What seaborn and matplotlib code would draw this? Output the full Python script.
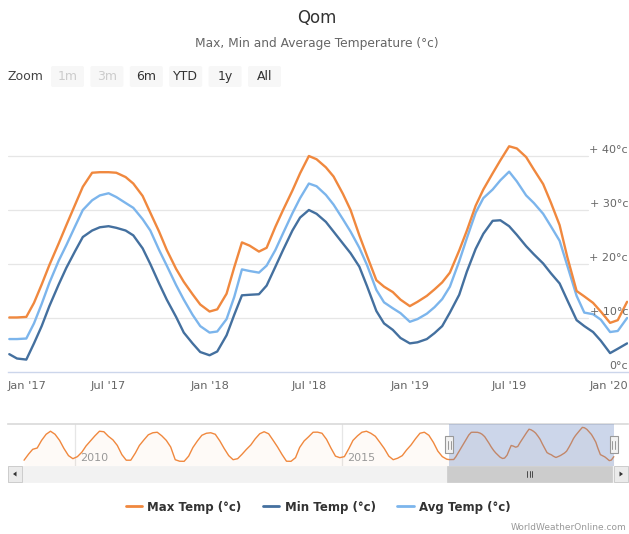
import numpy as np
import pandas as pd
import matplotlib
matplotlib.use("Agg")
import matplotlib.pyplot as plt
import matplotlib.transforms as mtransforms
from matplotlib.patches import Rectangle, FancyBboxPatch, Polygon
from matplotlib.lines import Line2D
import seaborn as sns

# ---------------- data ----------------
# semi-monthly sample dates (1st and 15th), Jan 2017 .. Feb 2020
dates = pd.date_range("2017-01-01", "2020-02-01", freq="SMS")

max_temp = [10.1, 10.1, 10.2, 12.8, 16.2, 19.8, 23.8, 27.2, 31.0, 34.3, 36.9, 37.0,
            37.0, 36.9, 36.1, 34.9, 32.6, 29.5, 26.0, 22.6, 19.1, 16.7, 14.4, 12.5,
            11.2, 11.6, 14.5, 19.4, 24.0, 23.4, 22.3, 23.0, 26.9, 30.0, 33.6, 36.8,
            40.0, 39.4, 37.9, 36.2, 33.0, 30.0, 25.3, 21.5, 17.0, 15.8, 14.8, 13.4,
            12.2, 13.0, 14.1, 15.3, 16.6, 18.4, 22.5, 26.2, 30.8, 33.8, 36.8, 39.2,
            41.8, 41.4, 39.8, 37.5, 34.8, 31.4, 27.2, 21.3, 15.0, 14.0, 12.8, 11.2,
            9.1, 9.6, 13.0]

min_temp = [3.3, 2.5, 2.3, 5.3, 8.5, 12.2, 16.2, 19.3, 22.4, 25.0, 26.2, 26.8,
            27.0, 26.7, 26.2, 25.3, 22.9, 20.0, 16.4, 13.4, 10.2, 7.3, 5.3, 3.7,
            3.1, 3.8, 6.8, 10.6, 14.2, 14.3, 14.4, 16.0, 19.5, 22.6, 26.2, 28.6,
            30.0, 29.3, 27.8, 26.0, 23.8, 22.0, 19.5, 15.9, 11.3, 9.0, 7.8, 6.3,
            5.3, 5.5, 6.1, 7.2, 8.5, 11.0, 14.3, 18.6, 22.8, 25.6, 28.0, 28.1,
            27.0, 25.4, 23.3, 21.8, 20.1, 18.3, 16.4, 13.3, 9.6, 8.5, 7.4, 5.8,
            3.5, 4.3, 5.3]

avg_temp = [6.1, 6.1, 6.2, 9.0, 12.6, 16.5, 20.6, 23.5, 27.0, 30.0, 31.8, 32.7,
            33.1, 32.4, 31.3, 30.4, 28.3, 26.2, 22.6, 19.7, 16.1, 13.4, 10.6, 8.5,
            7.3, 7.5, 9.8, 13.9, 19.0, 18.7, 18.4, 19.7, 22.6, 25.7, 29.4, 32.2,
            34.9, 34.4, 32.8, 31.0, 28.3, 26.0, 23.0, 19.8, 15.2, 12.9, 11.8, 10.9,
            9.3, 9.8, 10.8, 12.0, 13.5, 15.8, 20.5, 24.8, 29.5, 32.2, 33.8, 35.5,
            37.1, 35.3, 32.7, 31.3, 29.3, 27.0, 24.3, 19.7, 14.1, 11.0, 10.7, 9.7,
            7.4, 7.6, 10.0]

# navigator history (monthly max temp, 2009-2016)
nav_hist_dates = pd.date_range("2009-01-01", "2016-12-01", freq="MS") + pd.Timedelta(days=14)
nav_hist_max = [9.5, 15.5, 20.2, 21.5, 29.0, 35.0, 38.0, 35.0, 29.0, 21.0, 14.0, 11.0,
                13.0, 17.5, 23.5, 28.5, 33.5, 38.0, 37.5, 33.0, 29.5, 24.0, 15.0, 9.5,
                9.5, 16.5, 24.0, 29.5, 34.5, 36.5, 37.0, 33.5, 29.0, 22.5, 10.0, 8.5,
                8.4, 13.5, 22.0, 28.5, 34.0, 36.0, 36.5, 35.0, 28.5, 21.0, 14.0, 10.0,
                11.0, 15.5, 20.0, 24.5, 30.5, 35.5, 37.5, 35.5, 29.0, 22.5, 15.0, 8.5,
                8.4, 12.0, 22.0, 28.5, 32.5, 37.0, 37.1, 36.0, 30.0, 21.5, 13.5, 12.0,
                13.0, 21.0, 29.0, 33.5, 37.0, 38.0, 36.0, 33.0, 27.0, 21.0, 13.5, 10.0,
                11.5, 14.0, 19.5, 24.5, 30.5, 36.0, 37.0, 34.0, 27.0, 18.5, 13.0, 10.5]

series_names = ["Max Temp (°c)", "Min Temp (°c)", "Avg Temp (°c)"]
series_colors = ["#f0883e", "#44709f", "#7cb5ec"]

tick_dates = pd.to_datetime(["2017-01-01", "2017-07-01", "2018-01-01", "2018-07-01",
                             "2019-01-01", "2019-07-01", "2020-01-01"])
tick_labels = ["Jan '17", "Jul '17", "Jan '18", "Jul '18", "Jan '19", "Jul '19", "Jan '20"]
y_ticks = [0, 10, 20, 30, 40]
y_labels = ["0°c", "+ 10°c", "+ 20°c", "+ 30°c", "+ 40°c"]
buttons = ["1m", "3m", "6m", "YTD", "1y", "All"]
buttons_enabled = [False, False, True, True, True, True]

# ---------------- style ----------------
sns.set_style("white")
plt.rcParams["font.family"] = ["DejaVu Sans"]

W, H = 629, 534
fig = plt.figure(figsize=(W / 100, H / 100), dpi=100)


def fb(l, t, r, b):
    return [l / W, 1 - b / H, (r - l) / W, (b - t) / H]


# ---------------- main chart ----------------
ax = fig.add_axes(fb(8, 100, 628, 372))
df = pd.DataFrame({"date": dates,
                   series_names[0]: max_temp,
                   series_names[1]: min_temp,
                   series_names[2]: avg_temp})
long = df.melt(id_vars="date", var_name="series", value_name="temp")
sns.lineplot(data=long, x="date", y="temp", hue="series", hue_order=series_names[::-1],
             palette=dict(zip(series_names, series_colors)), linewidth=1.7,
             legend=False, ax=ax, solid_joinstyle="round", solid_capstyle="round")

px_per_day = 200.4 / 365.25
t0 = pd.Timestamp("2017-01-01")
ax.set_xlim(t0 - pd.Timedelta(days=1.3 / px_per_day), t0 + pd.Timedelta(days=618.7 / px_per_day))
ax.set_ylim(0, 272 / 5.4)
ax.set_xlabel("")
ax.set_ylabel("")
ax.set_yticks([])
ax.set_xticks(tick_dates)
ax.tick_params(axis="x", length=7, width=0.8, color="#ccd6eb", labelbottom=False, direction="out")
for s in ["left", "right", "top"]:
    ax.spines[s].set_visible(False)
ax.spines["bottom"].set_color("#ccd6eb")
ax.spines["bottom"].set_linewidth(1.0)
ax.set_facecolor("none")

for v in y_ticks[1:]:
    ax.axhline(v, xmin=0, xmax=(588 - 8) / 620, color="#e6e6e6", lw=0.9, zorder=0)

ytrans = mtransforms.offset_copy(mtransforms.blended_transform_factory(ax.transAxes, ax.transData),
                                 fig=fig, x=0, y=6, units="dots")
for v, lab in zip(y_ticks, y_labels):
    ax.text(1.0, v, lab, transform=ytrans, ha="right", va="center", fontsize=8, color="#666666")

xtrans = mtransforms.blended_transform_factory(ax.transData, ax.transAxes)
for i, (d, lab) in enumerate(zip(tick_dates, tick_labels)):
    if i == 0:
        ax.text(0.0, -14 / 272, lab, transform=ax.transAxes, ha="left", va="center",
                fontsize=8.2, color="#666666")
    elif i == len(tick_dates) - 1:
        ax.text(1.0, -14 / 272, lab, transform=ax.transAxes, ha="right", va="center",
                fontsize=8.2, color="#666666")
    else:
        ax.text(d, -14 / 272, lab, transform=xtrans, ha="center", va="center",
                fontsize=8.2, color="#666666")

# ---------------- navigator ----------------
axn = fig.add_axes(fb(8, 423.5, 628, 466))
nav_dates = list(nav_hist_dates) + list(dates)
nav_vals = list(nav_hist_max) + list(max_temp)
nav_bottom = 3.8
axn.fill_between(nav_dates, nav_vals, nav_bottom, color=series_colors[0], alpha=0.04, lw=0)
sns.lineplot(x=nav_dates, y=nav_vals, color=series_colors[0], linewidth=1.0, ax=axn,
             solid_joinstyle="round")
nt0 = pd.Timestamp("2009-01-01")
nav_px_per_day = 53.4 / 365.25
axn.set_xlim(nt0 - pd.Timedelta(days=14 / nav_px_per_day), nt0 + pd.Timedelta(days=606 / nav_px_per_day))
axn.set_ylim(nav_bottom, 45.6)
axn.set_xticks([])
axn.set_yticks([])
axn.set_xlabel("")
axn.set_ylabel("")
for s in ["left", "right", "bottom"]:
    axn.spines[s].set_visible(False)
axn.spines["top"].set_color("#d9d9d9")
axn.spines["top"].set_linewidth(1.2)
axn.set_facecolor("none")

ntrans = mtransforms.blended_transform_factory(axn.transData, axn.transAxes)
for yr in ["2010-01-01", "2015-01-01"]:
    d = pd.Timestamp(yr)
    axn.axvline(d, color="#e6e6e6", lw=0.9, zorder=0)
    axn.text(d, 0.19, yr[:4], transform=mtransforms.offset_copy(ntrans, fig=fig, x=5, y=0, units="dots"),
             ha="left", va="center", fontsize=8, color="#999999")

sel_start, sel_end = dates[0], dates[-1]
axn.axvspan(sel_start, sel_end, color=(102 / 255, 133 / 255, 194 / 255, 0.33), lw=0, zorder=3)
hw = pd.Timedelta(days=4 / nav_px_per_day)
for d in [sel_start, sel_end]:
    axn.add_patch(Rectangle((d - hw, 0.3), 2 * hw, 0.4, transform=ntrans, fc="#f2f2f2",
                            ec="#999999", lw=0.8, zorder=5, clip_on=False))
    for off in [-1.5, 1.5]:
        dd = d + pd.Timedelta(days=off / nav_px_per_day)
        axn.plot([dd, dd], [0.4, 0.6], transform=ntrans, color="#999999", lw=0.7, zorder=6,
                 clip_on=False)

# ---------------- overlay (px coords) ----------------
ao = fig.add_axes([0, 0, 1, 1])
ao.set_xlim(0, W)
ao.set_ylim(H, 0)
ao.axis("off")

# scrollbar
ao.add_patch(Rectangle((8, 466), 620, 16, fc="#f2f2f2", ec="#f2f2f2", lw=0.5))
ao.add_patch(Rectangle((447, 466), 165, 16, fc="#cccccc", ec="#cccccc", lw=0.5))
for gx in [527, 529.5, 532]:
    ao.plot([gx, gx], [471, 477], color="#333333", lw=0.6)
for bx, direction in [(8, -1), (614, 1)]:
    ao.add_patch(Rectangle((bx, 466), 14, 16, fc="#ebebeb", ec="#cccccc", lw=0.7))
    cx, cy = bx + 7, 474
    ao.add_patch(Polygon([(cx + 2 * direction, cy), (cx - 1.5 * direction, cy - 2.5),
                          (cx - 1.5 * direction, cy + 2.5)], closed=True, fc="#333333", ec="none"))

# range selector
ao.text(8, 77, "Zoom", ha="left", va="center", fontsize=9, color="#444444")
for i, (lab, en) in enumerate(zip(buttons, buttons_enabled)):
    bx = 51 + 39.4 * i
    ao.add_patch(FancyBboxPatch((bx, 66), 33, 21, boxstyle="round,pad=0,rounding_size=2",
                                fc="#f7f7f7", ec="none"))
    ao.text(bx + 16.5, 76.5, lab, ha="center", va="center", fontsize=9,
            color="#333333" if en else "#cccccc")

# titles
fig.text(317 / W, 1 - 18 / H, "Qom", ha="center", va="center", fontsize=12, color="#333333")
fig.text(317 / W, 1 - 44 / H, "Max, Min and Average Temperature (°c)", ha="center", va="center",
         fontsize=8.8, color="#666666")

# legend
handles = [Line2D([], [], color=c, lw=2) for c in series_colors]
fig.legend(handles, series_names, loc="center", bbox_to_anchor=(318 / W, 1 - 507 / H), ncol=3,
           frameon=False, prop={"weight": "bold", "size": 8.5}, labelcolor="#333333",
           handlelength=1.4, handletextpad=0.45, columnspacing=1.8)

fig.text(626 / W, 1 - 527 / H, "WorldWeatherOnline.com", ha="right", va="center",
         fontsize=6.5, color="#999999")

fig.savefig("out.png", dpi=100)
